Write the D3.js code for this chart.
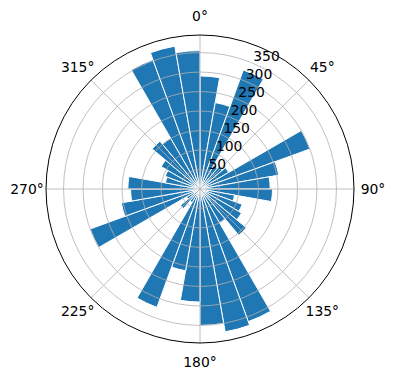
<!DOCTYPE html>
<html>
<head>
<meta charset="utf-8">
<script src="https://cdn.jsdelivr.net/npm/d3@7"></script>
<style>
  html, body { margin: 0; padding: 0; background: #ffffff; }
  svg { display: block; }
  text { font-family: "DejaVu Sans", sans-serif; font-size: 13.9px; fill: #000; }
</style>
</head>
<body>
<svg id="chart" width="396" height="380"></svg>
<script>
// Bin start angles (degrees, clockwise from north), 10° wide bins
const binStarts = [0,10,20,30,40,50,60,70,80,90,100,110,120,130,140,150,160,170,
                   180,190,200,210,220,230,240,250,260,270,280,290,300,310,320,330,340,350];
// Count per bin
const counts = [290,225,325,70,75,85,300,205,180,186,90,115,123,155,100,362,372,350,
                290,213,323,40,65,40,300,205,178,185,90,95,115,160,150,353,372,355];
const binWidth = 10;
// Angular tick labels
const angleTicks = [0,45,90,135,180,225,270,315];
const angleLabels = ["0°","45°","90°","135°","180°","225°","270°","315°"];
// Radial ticks
const radialTicks = [50,100,150,200,250,300,350];
const radialLabels = ["50","100","150","200","250","300","350"];
const rMax = 395;

const svg = d3.select("#chart");
const cx = 200, cy = 189, R = 154;
const g = svg.append("g").attr("transform", `translate(${cx},${cy})`);

const r = d3.scaleLinear().domain([0, rMax]).range([0, R]);
const a = d3.scaleLinear().domain([0, 360]).range([0, 2 * Math.PI]);

const arc = d3.arc().innerRadius(0);

// Bars
g.append("g").selectAll("path")
  .data(binStarts.map((s, i) => ({ s, v: counts[i] })))
  .join("path")
  .attr("d", d => arc({ startAngle: a(d.s), endAngle: a(d.s + binWidth), outerRadius: r(d.v) }))
  .attr("fill", "#1f77b4")
  .attr("stroke", "#ffffff")
  .attr("stroke-width", 1)
  .attr("stroke-linejoin", "miter");

// Grid rings
const grid = g.append("g");
grid.selectAll("circle")
  .data(radialTicks)
  .join("circle")
  .attr("r", d => r(d))
  .attr("fill", "none")
  .attr("stroke", "#b0b0b0")
  .attr("stroke-width", 0.8);

// Spokes
grid.selectAll("line")
  .data(angleTicks)
  .join("line")
  .attr("x1", 0).attr("y1", 0)
  .attr("x2", d => R * Math.sin(a(d)))
  .attr("y2", d => -R * Math.cos(a(d)))
  .attr("stroke", "#b0b0b0")
  .attr("stroke-width", 0.8);

// Outer frame
g.append("circle")
  .attr("r", R)
  .attr("fill", "none")
  .attr("stroke", "#000")
  .attr("stroke-width", 1);

// Angular labels
const labR = 173;
g.append("g").selectAll("text")
  .data(angleTicks)
  .join("text")
  .attr("x", d => labR * Math.sin(a(d)))
  .attr("y", d => -labR * Math.cos(a(d)))
  .attr("text-anchor", "middle")
  .attr("dominant-baseline", "central")
  .text((d, i) => angleLabels[i]);

// Radial labels at 22.5°
const labA = a(22.5);
g.append("g").selectAll("text")
  .data(radialTicks)
  .join("text")
  .attr("x", d => r(d) * Math.sin(labA) + 1)
  .attr("y", d => -r(d) * Math.cos(labA) - 2)
  .attr("text-anchor", "start")
  .text((d, i) => radialLabels[i]);
</script>
</body>
</html>
